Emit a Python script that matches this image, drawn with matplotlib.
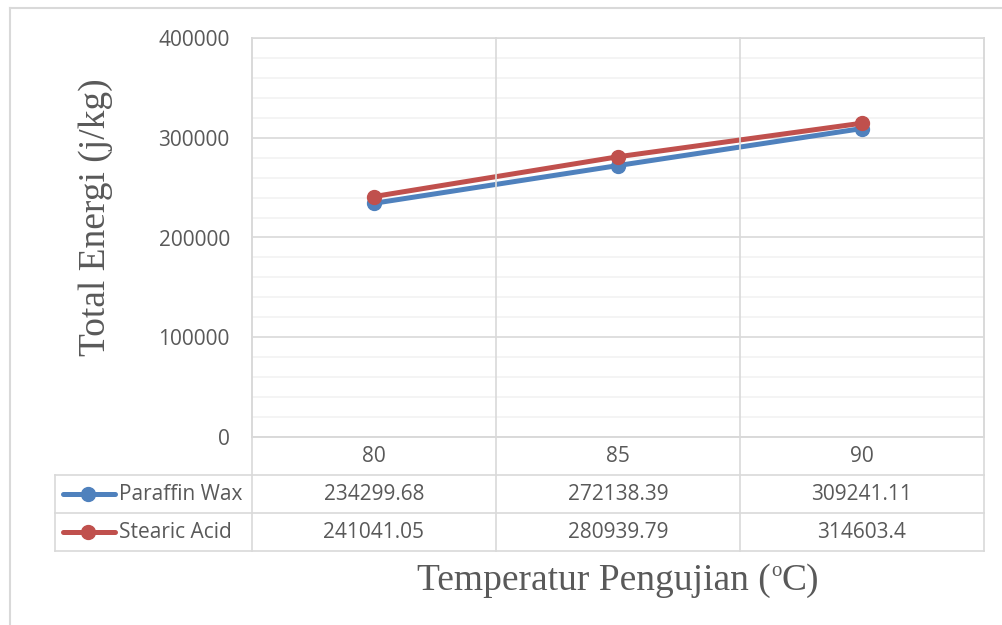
import matplotlib
matplotlib.use("Agg")
import matplotlib.pyplot as plt
from matplotlib.lines import Line2D
from matplotlib.transforms import blended_transform_factory

# temperatures and total energy per material
temps = ["80", "85", "90"]
paraffin_wax = [234299.68, 272138.39, 309241.11]
stearic_acid = [241041.05, 280939.79, 314603.4]
series_names = ["Paraffin Wax", "Stearic Acid"]
series_colors = ["#4F81BD", "#C0504D"]

W, H = 1003, 625
TXT = "#595959"
GRID = "#D9D9D9"
MINOR = "#F2F2F2"

plt.rcParams["font.family"] = ["Open Sans", "DejaVu Sans"]

fig = plt.figure(figsize=(W / 100, H / 100), dpi=100)


def fy(y):
    # pixel row (from top) -> figure fraction
    return 1 - y / H


def fx(x):
    return x / W


left, right, top, bottom = 252, 984, 38, 437
ax = fig.add_axes([fx(left), fy(bottom), fx(right - left), (bottom - top) / H])

xs = list(range(len(temps)))
for vals, name, col in zip([paraffin_wax, stearic_acid], series_names, series_colors):
    ax.plot(xs, vals, color=col, lw=3.6, marker="o", ms=10, solid_capstyle="round",
            zorder=3, label=name)

ax.set_xlim(-0.5, len(temps) - 0.5)
ax.set_ylim(0, 400000)
ax.set_yticks(range(0, 400001, 100000))
ax.set_yticks(range(0, 400001, 20000), minor=True)
ax.grid(axis="y", which="minor", color=MINOR, lw=1.2, zorder=0)
ax.grid(axis="y", which="major", color=GRID, lw=1.2, zorder=1)
ax.set_xticks([])
ax.tick_params(axis="y", which="both", length=0, pad=16, labelsize=15, labelcolor=TXT)
for s in ax.spines.values():
    s.set_color(GRID)
    s.set_linewidth(1.2)

# data table below the plot
tr = blended_transform_factory(ax.transData, fig.transFigure)
row_edges = [437, 475, 513, 551]
table_left = 55

for xb in [i - 0.5 for i in range(len(temps) + 1)]:
    fig.add_artist(Line2D([xb, xb], [fy(top), fy(row_edges[-1])], transform=tr,
                          color=GRID, lw=1.2))
for i, y in enumerate(row_edges):
    x0 = fx(left) if i == 0 else fx(table_left)
    fig.add_artist(Line2D([x0, fx(right)], [fy(y), fy(y)], transform=fig.transFigure,
                          color=GRID, lw=1.2))
fig.add_artist(Line2D([fx(table_left), fx(table_left)], [fy(row_edges[1]), fy(row_edges[-1])],
                      transform=fig.transFigure, color=GRID, lw=1.2))

yc = [(row_edges[k] + row_edges[k + 1]) / 2 for k in range(3)]
for i, t in enumerate(temps):
    fig.text(i, fy(yc[0]), t, transform=tr, ha="center", va="center", fontsize=15, color=TXT)

for r, (vals, name, col) in enumerate(zip([paraffin_wax, stearic_acid], series_names, series_colors)):
    y = fy(yc[r + 1])
    for i, v in enumerate(vals):
        fig.text(i, y, str(v), transform=tr, ha="center", va="center", fontsize=15, color=TXT)
    fig.add_artist(Line2D([fx(63), fx(115)], [y, y], transform=fig.transFigure, color=col,
                          lw=3.6, solid_capstyle="round"))
    fig.add_artist(Line2D([fx(88)], [y], transform=fig.transFigure, color=col, marker="o",
                          ms=10, lw=0))
    fig.text(fx(119), y, name, ha="left", va="center", fontsize=15, color=TXT)

# axis titles
serif = dict(color=TXT, family="Liberation Serif")
fig.text(fx(96), fy(217), "Total Energi (j/kg)", rotation=90, ha="center", va="center",
         fontsize=27, **serif)

# x title built from pieces so the degree "o" can be a small superscript
renderer = fig.canvas.get_renderer()
base_y = fy(590)
parts = [("Temperatur Pengujian (", 27, 0), ("o", 15, 14), ("C)", 27, 0)]
texts, widths = [], []
for s, size, rise in parts:
    t = fig.text(0, base_y + rise / H, s, ha="left", va="baseline", fontsize=size, **serif)
    texts.append(t)
    widths.append(t.get_window_extent(renderer).width / W)
x = fx(618) - sum(widths) / 2
for t, w in zip(texts, widths):
    t.set_x(x)
    x += w

# outer frame
fig.add_artist(Line2D([fx(10), fx(10)], [fy(8), 0], transform=fig.transFigure, color=GRID, lw=1.5))
fig.add_artist(Line2D([fx(10), 1], [fy(8), fy(8)], transform=fig.transFigure, color=GRID, lw=1.5))

fig.savefig("out.png", dpi=100)
